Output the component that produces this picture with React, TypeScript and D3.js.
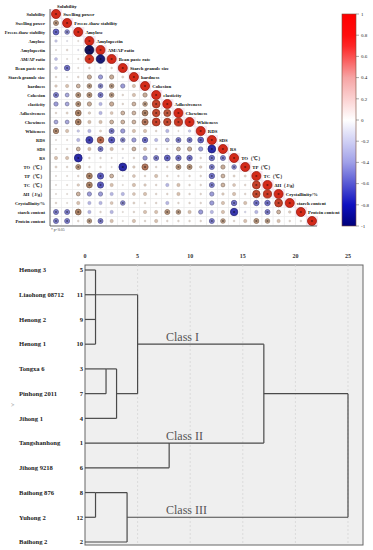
import React, { useEffect } from "react";
import * as d3 from "d3";

// ---- correlation matrix (lower triangle, row i holds columns 0..i-1) ----
const variables = [
  "Solubility", "Swelling power", "Freeze-thaw stability", "Amylose", "Amylopectin",
  "AM/AP ratio", "Bean paste rate", "Starch granule size", "hardness", "Cohesion",
  "elasticity", "Adhesiveness", "Chewiness", "Whiteness", "RDS", "SDS", "RS",
  "TO（℃）", "TP（℃）", "TC（℃）", "ΔH（J/g）", "Crystallinity/%", "starch content",
  "Protein content",
];

const corrRows: number[][] = [
  [],
  [0.5],
  [-0.6, -0.45],
  [-0.2, -0.05, 0.05],
  [0.05, 0.1, -0.05, -1.0],
  [-0.25, 0.05, 0.05, 0.95, -0.95],
  [-0.25, -0.55, 0.05, 0.1, -0.05, 0.1],
  [0.1, 0.05, 0.1, 0.4, -0.4, 0.4, 0.15],
  [0.2, 0.3, 0.35, 0.45, -0.45, 0.45, -0.4, 0.3],
  [-0.5, -0.35, 0.5, 0.5, -0.5, 0.45, 0.1, 0.3, 0.4],
  [-0.4, -0.35, 0.5, 0.4, -0.3, 0.4, 0.1, 0.35, 0.45, 0.85],
  [0.1, 0.15, 0.6, 0.2, -0.3, 0.25, 0.35, 0.35, 0.6, 0.8, 0.75],
  [-0.35, -0.35, 0.6, 0.3, 0.3, 0.35, 0.35, 0.35, 0.65, 0.85, 0.8, 0.9],
  [0.55, 0.3, -0.2, -0.3, 0.15, -0.5, -0.4, 0.3, 0.3, 0.1, -0.3, 0.05, -0.2],
  [0.05, 0.05, -0.3, -0.75, 0.7, -0.65, -0.45, -0.4, -0.55, -0.3, -0.35, -0.5, -0.5, -0.6],
  [0.05, 0.1, 0.35, 0.3, -0.5, 0.3, 0.1, 0.35, 0.3, 0.1, 0.1, 0.35, 0.4, -0.4, -0.85],
  [0.3, 0.3, -0.85, 0.1, 0.1, 0.05, -0.05, 0.1, -0.4, -0.5, -0.6, -0.55, -0.55, 0.1, -0.55, -0.5],
  [0.15, 0.1, 0.5, 0.1, 0.1, 0.05, -0.85, 0.2, 0.65, 0.1, 0.1, 0.5, 0.5, 0.2, -0.5, 0.4, -0.45],
  [0.05, 0.05, 0.1, 0.6, -0.65, 0.35, 0.05, 0.25, 0.1, 0.3, 0.1, 0.1, 0.1, 0.1, -0.55, 0.35, 0.15, 0.15],
  [0.05, 0.05, 0.2, 0.6, -0.65, 0.3, 0.05, 0.3, 0.2, 0.1, -0.3, 0.3, 0.1, 0.1, -0.5, 0.35, 0.25, 0.1, 0.85],
  [0.05, 0.05, 0.35, -0.4, -0.4, -0.3, -0.3, 0.25, 0.3, 0.1, 0.1, 0.3, 0.1, 0.1, -0.4, 0.2, 0.3, 0.1, 0.8, 0.9],
  [0.1, 0.05, 0.3, -0.3, -0.3, 0.25, -0.45, 0.15, 0.1, 0.1, -0.3, 0.1, 0.1, 0.1, -0.4, 0.3, -0.55, 0.3, -0.55, -0.55, 0.85],
  [-0.5, -0.5, 0.6, -0.3, 0.1, -0.3, 0.05, 0.1, 0.3, 0.3, 0.5, 0.45, 0.3, -0.4, -0.3, 0.3, -0.8, -0.1, -0.3, -0.5, 0.35, 0.2],
  [-0.5, -0.5, 0.1, 0.45, -0.5, 0.3, 0.05, 0.3, 0.1, 0.3, 0.1, 0.1, 0.1, 0.1, -0.5, 0.45, 0.1, 0.3, 0.5, 0.45, 0.3, 0.1, 0.1],
];

const colorTicks = [1, 0.8, 0.6, 0.4, 0.2, 0, -0.2, -0.4, -0.6, -0.8, -1];

// ---- cluster dendrogram ----
const cultivars = [
  "Henong 3", "Liaohong 08712", "Henong 2", "Henong 1", "Tongxa 6", "Pinhong 2011",
  "Jihong 1", "Tangshanhong", "Jihong 9218", "Baihong 876", "Yuhong 2", "Baihong 2",
];
const cultivarIds = [5, 11, 9, 10, 3, 7, 4, 1, 6, 8, 12, 2];

// SPSS style merges: kids are leaf indexes ("L3") or earlier merge names, row = where the joined line leaves
const mergeSteps = [
  { name: "a", kids: ["L0", "L1", "L2", "L3"], height: 1.0, row: 1 },
  { name: "b", kids: ["L4", "L5"], height: 2.0, row: 4 },
  { name: "c", kids: ["b", "L6"], height: 3.0, row: 5 },
  { name: "d", kids: ["a", "c"], height: 5.0, row: 3 },
  { name: "e", kids: ["L7", "L8"], height: 8.0, row: 7 },
  { name: "f", kids: ["d", "e"], height: 17.0, row: 5 },
  { name: "g", kids: ["L9", "L10"], height: 1.0, row: 9 },
  { name: "h", kids: ["g", "L11"], height: 4.0, row: 10 },
  { name: "i", kids: ["f", "h"], height: 25.0, row: 7.5 },
];
const distanceTicks = [0, 5, 10, 15, 20, 25];
const classNames = ["Class I", "Class II", "Class III"];
const classRows = [3, 7, 10];

const serif = "'Liberation Serif', 'Times New Roman', serif";

const posColor = d3.scaleLinear<string>()
  .domain([0, 0.3, 0.6, 0.8, 1])
  .range(["#f3ebe6", "#d6bfae", "#ad8468", "#c2492f", "#d42a1a"]);
const negColor = d3.scaleLinear<string>()
  .domain([0, -0.3, -0.6, -0.85, -1])
  .range(["#efeff8", "#b6b6e2", "#6767c4", "#2b2ba8", "#12125a"]);
const barColor = d3.scaleLinear<string>()
  .domain([-1, -0.8, -0.4, 0, 0.4, 0.75, 1])
  .range(["#00007a", "#1010c0", "#a0a0e8", "#ffffff", "#f6a4a4", "#ff1010", "#ff0000"]);

function circleColor(v: number) {
  return v >= 0 ? posColor(v) : negColor(v);
}

function CorrPlot() {
  const n = variables.length;
  const x = d3.scaleLinear().domain([0, n - 1]).range([56, 312]);
  const y = d3.scaleLinear().domain([0, n - 1]).range([14, 221]);
  const cw = x(1) - x(0);
  const ch = y(1) - y(0);
  const r = d3.scaleLinear().domain([0, 1]).range([0.5, 4.5]);
  const barY = d3.scaleLinear().domain([1, -1]).range([14, 226]);

  const cells: { i: number; j: number; v: number }[] = [];
  variables.forEach((_, i) => {
    for (let j = 0; j <= i; j++) {
      cells.push({ i, j, v: i === j ? 1 : corrRows[i][j] });
    }
  });

  const stops = d3.range(-1, 1.001, 0.1);

  return (
    <g>
      <defs>
        <linearGradient id="cbar" x1="0" y1="1" x2="0" y2="0">
          {stops.map((s, k) => (
            <stop key={k} offset={(s + 1) / 2} stopColor={barColor(s)} />
          ))}
        </linearGradient>
      </defs>
      {variables.map((_, i) => (
        <rect key={"pk" + i} x={x(i) - cw / 2 - 0.5} y={y(i) - ch / 2 - 0.5}
          width={cw + 1} height={ch + 1} fill="#fbe1f1" />
      ))}
      {cells.map((c) => (
        <rect key={"c" + c.i + "-" + c.j} x={x(c.j) - cw / 2} y={y(c.i) - ch / 2}
          width={cw} height={ch} fill="none" stroke="#ececec" strokeWidth={0.5} />
      ))}
      {cells.map((c) => {
        const fill = circleColor(c.v);
        const dark = d3.color(fill)!.darker(0.9).formatHex();
        return (
          <g key={"d" + c.i + "-" + c.j}>
            <circle cx={x(c.j)} cy={y(c.i)} r={r(Math.abs(c.v))} fill={fill}
              stroke={dark} strokeWidth={Math.abs(c.v) > 0.3 ? 0.8 : 0.3} />
            {Math.abs(c.v) >= 0.45 && (
              <circle cx={x(c.j)} cy={y(c.i)} r={1.1} fill={d3.color(fill)!.darker(1.6).formatHex()} />
            )}
          </g>
        );
      })}
      <line x1={50} x2={50} y1={9} y2={226} stroke="#444" strokeWidth={0.8} />
      <line x1={50} x2={317} y1={226} y2={226} stroke="#444" strokeWidth={0.8} />
      {variables.map((name, i) => (
        <text key={"l" + i} x={45} y={y(i)} dy="0.35em" textAnchor="end"
          fontFamily={serif} fontWeight="bold" fontSize={4.5} fill="#111">{name}</text>
      ))}
      {variables.map((name, j) => (
        <text key={"t" + j} x={j === 0 ? x(0) + 1 : x(j) - 4} y={j === 0 ? 6 : y(j - 1)} dy="0.35em"
          fontFamily={serif} fontWeight="bold" fontSize={4.8} fill="#111">{name}</text>
      ))}
      <text x={51} y={231} fontFamily={serif} fontSize={3.8} fill="#444">* p&lt;0.05</text>
      <rect x={342} y={barY(1)} width={14} height={barY(-1) - barY(1)} fill="url(#cbar)"
        stroke="#7a4a3a" strokeWidth={0.6} />
      {colorTicks.map((t) => (
        <g key={"ct" + t}>
          <line x1={356} x2={359} y1={barY(t)} y2={barY(t)} stroke="#555" strokeWidth={0.5} />
          <text x={361} y={barY(t)} dy="0.35em" fontFamily={serif} fontSize={5} fill="#222">{t}</text>
        </g>
      ))}
    </g>
  );
}

function Dendrogram() {
  const x = d3.scaleLinear().domain([0, 25]).range([85, 348]);
  const y = d3.scaleLinear().domain([0, cultivars.length - 1]).range([270, 542]);
  const boxRight = 363;
  const top = 265;
  const bottom = 545;

  const nodes: Record<string, { row: number; height: number }> = {};
  cultivars.forEach((_, i) => { nodes["L" + i] = { row: i, height: 0 }; });

  const segs: { x1: number; x2: number; y1: number; y2: number }[] = [];
  mergeSteps.forEach((m) => {
    const rows = m.kids.map((k) => nodes[k].row);
    m.kids.forEach((k) => {
      const kid = nodes[k];
      segs.push({ x1: x(kid.height), x2: x(m.height), y1: y(kid.row), y2: y(kid.row) });
    });
    segs.push({ x1: x(m.height), x2: x(m.height), y1: y(d3.min(rows)!), y2: y(d3.max(rows)!) });
    nodes[m.name] = { row: m.row, height: m.height };
  });

  return (
    <g>
      <rect x={x(0)} y={top} width={boxRight - x(0)} height={bottom - top} fill="#efefef"
        stroke="#666" strokeWidth={1} />
      {distanceTicks.filter((t) => t > 0).map((t) => (
        <line key={"g" + t} x1={x(t)} x2={x(t)} y1={top} y2={bottom} stroke="#d2d2d2"
          strokeWidth={0.7} strokeDasharray="2,2" />
      ))}
      {distanceTicks.map((t) => (
        <text key={"tk" + t} x={x(t)} y={258} textAnchor="middle" fontFamily={serif}
          fontWeight="bold" fontSize={6} fill="#333">{t}</text>
      ))}
      {segs.map((s, k) => (
        <line key={"s" + k} x1={s.x1} x2={s.x2} y1={s.y1} y2={s.y2} stroke="#4a4a4a" strokeWidth={1.2} />
      ))}
      {cultivars.map((name, i) => (
        <g key={"cv" + i}>
          <text x={19} y={y(i)} dy="0.35em" fontFamily={serif} fontWeight="bold" fontSize={6.6} fill="#222">{name}</text>
          <text x={83} y={y(i)} dy="0.35em" textAnchor="end" fontFamily={serif} fontWeight="bold"
            fontSize={6.6} fill="#222">{cultivarIds[i]}</text>
        </g>
      ))}
      {classNames.map((c, k) => (
        <text key={c} x={x(7.7)} y={y(classRows[k]) - 3} fontFamily={serif} fontSize={12}
          fill="#555">{c}</text>
      ))}
      <text x={11} y={407} fontFamily={serif} fontSize={6} fill="#888">&gt;</text>
    </g>
  );
}

export default function App() {
  useEffect(() => {
    document.body.style.margin = "0";
  }, []);
  return (
    <svg width={373} height={550} style={{ display: "block", background: "#fff" }}>
      <CorrPlot />
      <Dendrogram />
    </svg>
  );
}
